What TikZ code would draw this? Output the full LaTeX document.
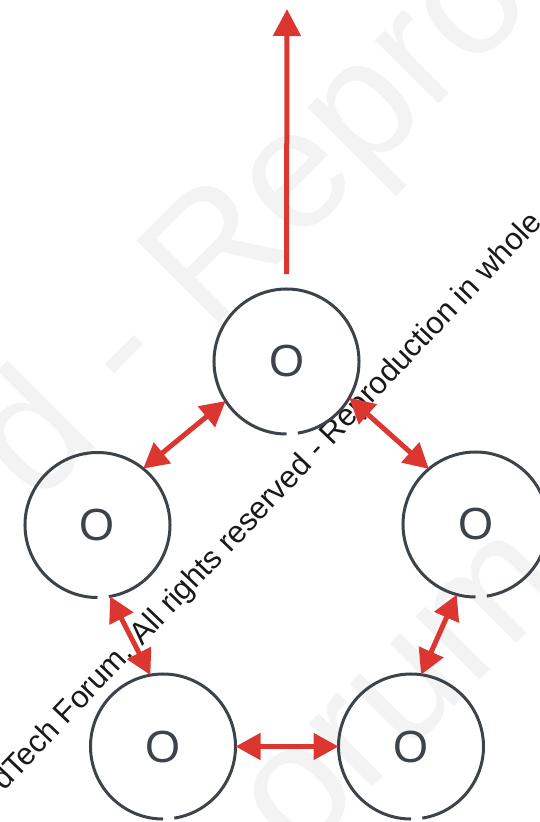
\documentclass[tikz,border=0pt]{standalone}
\usepackage{fontspec}
\setmainfont{Liberation Sans}
\usetikzlibrary{arrows.meta}
\definecolor{ringgray}{HTML}{3D434B}
\definecolor{msgred}{HTML}{DC3631}
\definecolor{wmgray}{HTML}{F3F3F3}
\tikzset{
    vertex/.style={circle,minimum size=145pt,inner sep=0pt,outer sep=0pt,text=ringgray,font=\fontsize{45}{45}\selectfont},
    ring/.style={draw=ringgray,line width=3pt},
    dedge/.style={{Triangle[length=25pt,width=26pt]}-{Triangle[length=25pt,width=26pt]},line width=5pt,draw=msgred},
    upedge/.style={-{Triangle[length=27pt,width=27pt]},line width=5pt,draw=msgred},
    wmbig/.style={text=wmgray,rotate=45,anchor=base west,inner sep=0pt,font=\fontsize{170}{170}\selectfont},
    wmline/.style={text=black!90,rotate=46.5,anchor=base west,inner sep=0pt,font=\fontsize{31}{31}\selectfont},
}

\begin{document}
\begin{tikzpicture}[x=1pt,y=1pt]
\useasboundingbox (0,0) rectangle (539,-822);
% watermark
\node[wmbig] (wm1) at (36,-507) {d - Repro};
\node[wmbig] (wm2) at (298,-862) {orum};
\node[wmline] (wm3) at (4,-792) {dTech Forum. All rights reserved - Reproduction in whole};
% nodes
\node[vertex] (top) at (286.5,-361.5) {O};
\node[vertex] (left) at (97.5,-525) {O};
\node[vertex] (right) at (475.5,-524.5) {O};
\node[vertex] (bl) at (163,-746.5) {O};
\node[vertex] (br) at (411,-746.5) {O};
\foreach \v in {top,left,right,bl,br}
    \draw[ring] (\v.-81) arc[start angle=-81,end angle=270,radius=72.5pt];
% edges
\coordinate (up) at (287,-9);
\draw[upedge] ([yshift=15pt]top.north) -- (up);
\draw[dedge] (top.213) -- (left.51);
\draw[dedge] (top.-30) -- (right.130);
\draw[dedge] (left.-80) -- (bl.100);
\draw[dedge] (bl.0) -- (br.180);
\draw[dedge] (right.-105) -- (br.82);
\end{tikzpicture}
\end{document}
